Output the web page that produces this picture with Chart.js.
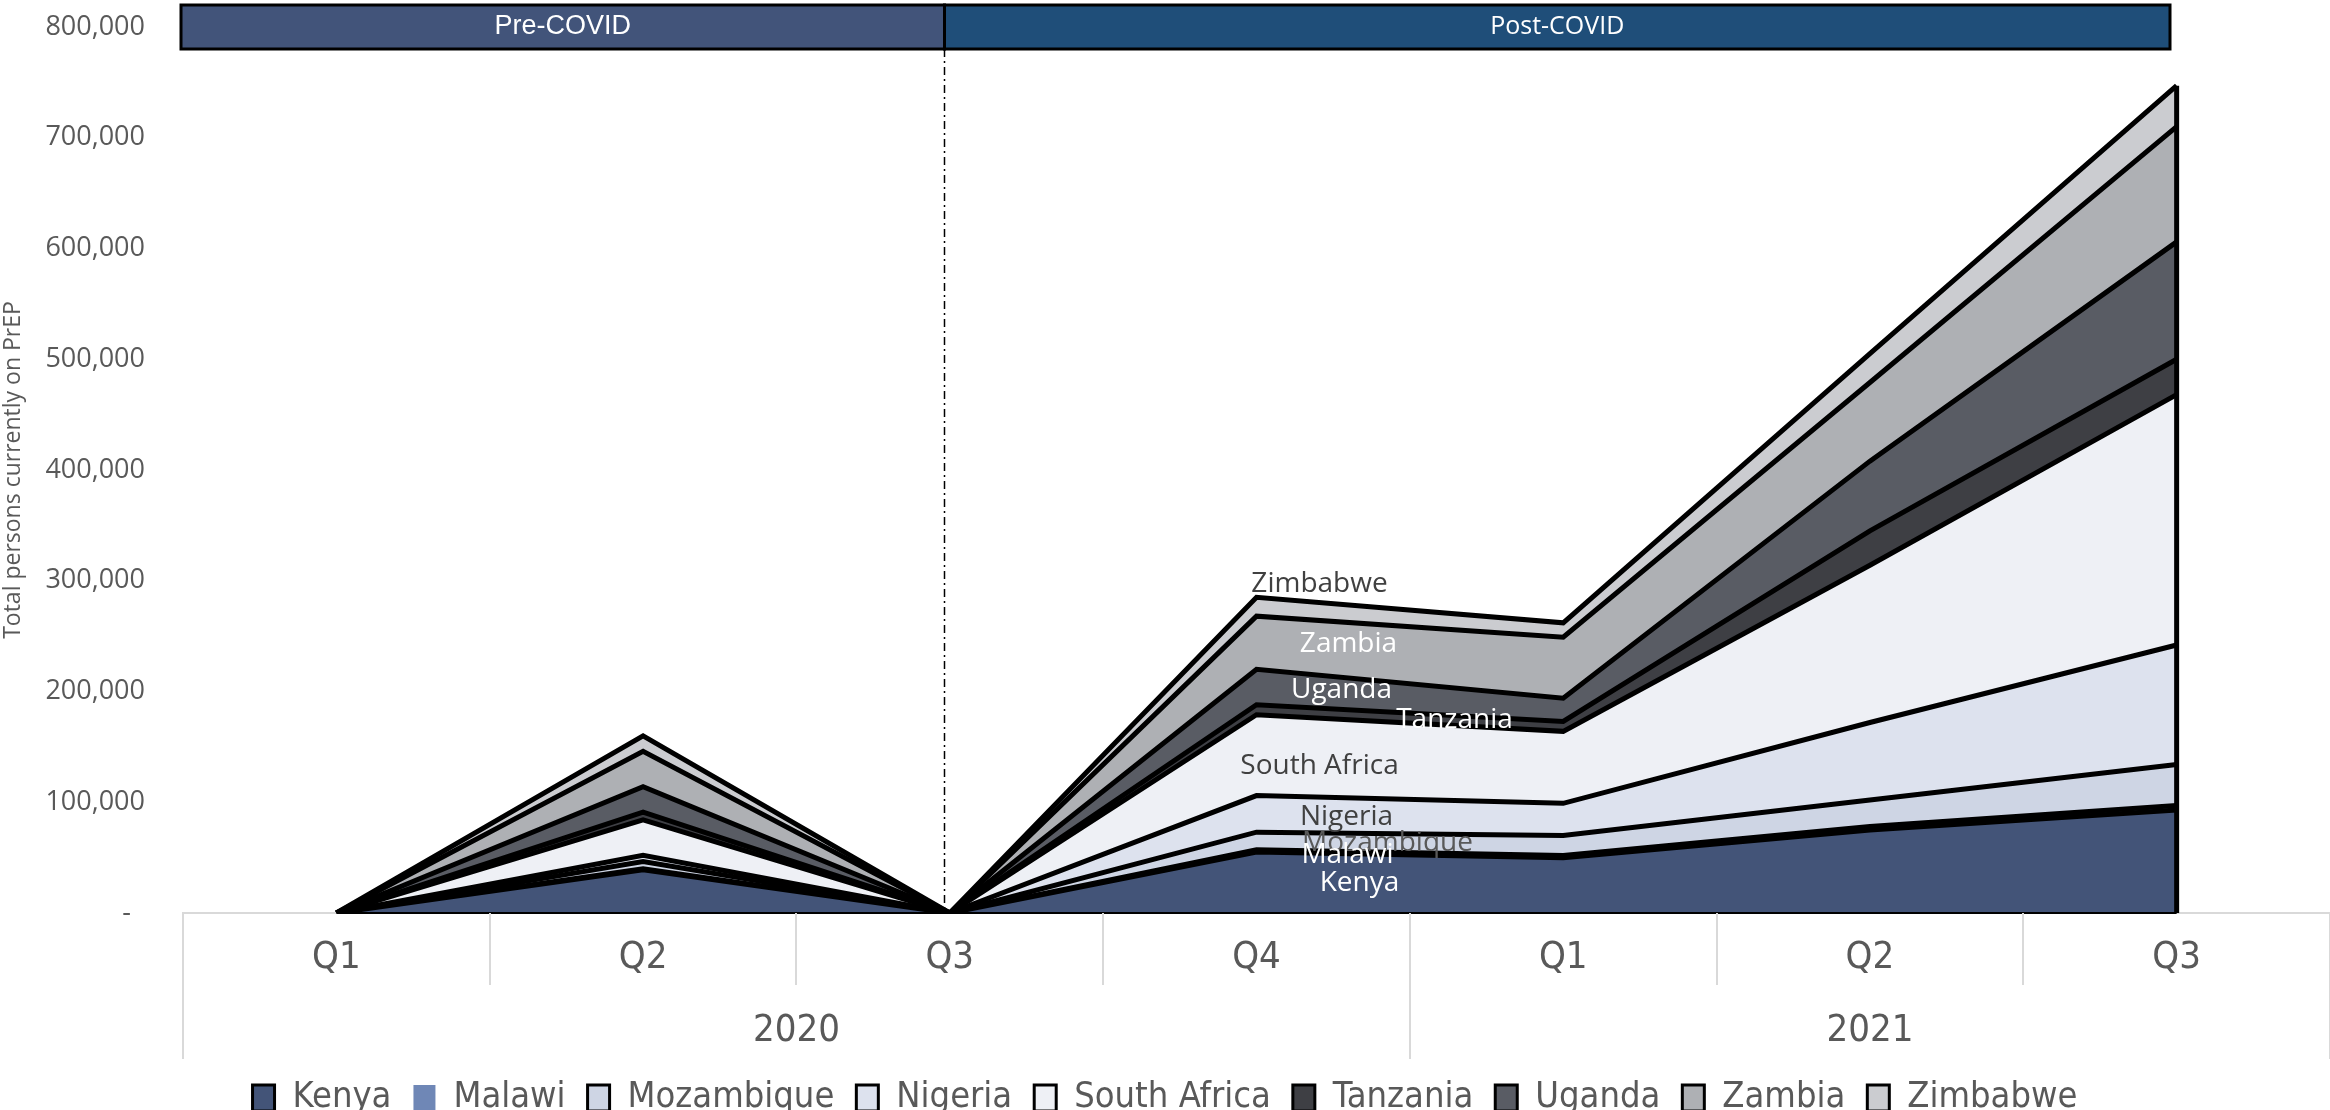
<!DOCTYPE html>
<html>
<head>
<meta charset="utf-8">
<title>Total persons currently on PrEP</title>
<script src="https://cdn.jsdelivr.net/npm/chart.js@4.4.1/dist/chart.umd.min.js"></script>
<style>
  html, body { margin: 0; padding: 0; background: #ffffff; }
  canvas { display: block; }
</style>
</head>
<body>
<canvas id="prep-chart" width="2330" height="1110"></canvas>
<script>
// quarters on the x axis, grouped by year underneath
var quarters = ['Q1', 'Q2', 'Q3', 'Q4', 'Q1', 'Q2', 'Q3'];
var years = ['2020', '2021'];
var quartersPerYear = [4, 3];

var yTicks = [0, 100000, 200000, 300000, 400000, 500000, 600000, 700000, 800000];

var periods = ['Pre-COVID', 'Post-COVID'];

var countries = ['Kenya', 'Malawi', 'Mozambique', 'Nigeria', 'South Africa',
                 'Tanzania', 'Uganda', 'Zambia', 'Zimbabwe'];

// persons currently on PrEP, per quarter
var kenya       = [0, 39000, 0, 55000, 50000,  75000,  93000];
var malawi      = [0,  1000, 0,  2000,  2000,   3000,   4000];
var mozambique  = [0,  6500, 0, 16000, 18000,  24000,  37000];
var nigeria     = [0,  5500, 0, 33000, 29000,  70000, 108000];
var southAfrica = [0, 32000, 0, 73000, 65000, 142000, 226000];
var tanzania    = [0,  7000, 0,  9000,  9000,  31000,  32000];
var uganda      = [0, 23000, 0, 32000, 21000,  63000, 106000];
var zambia      = [0, 32000, 0, 48000, 55000,  71000, 104000];
var zimbabwe    = [0, 14000, 0, 17000, 13000,  26000,  37000];

var seriesValues = [kenya, malawi, mozambique, nigeria, southAfrica,
                    tanzania, uganda, zambia, zimbabwe];

var fillColors = ['#435478', '#6F87B6', '#CED5E4', '#DDE2EE', '#EEF0F5',
                  '#3E3F44', '#595C64', '#AEB0B4', '#CBCCD0'];

// series name labels sit inside each band at Q4 2020
var labelIndex = 3;
var labelColors = ['#FFFFFF', '#FFFFFF', '#595959', '#404040', '#404040',
                   '#FFFFFF', '#FFFFFF', '#FFFFFF', '#404040'];
var labelOffsets = [[103, 0], [91, 4], [131, 2], [90, 3], [63, 11],
                    [198, 10], [85, 3], [92, 1], [63, -23]];

var narrowFont = '"Liberation Sans Narrow", "DejaVu Sans Condensed", "Arial Narrow", sans-serif';
var axisGrey = '#595959';
var lineGrey = '#D9D9D9';

var datasets = [];
for (var i = 0; i < countries.length; i++) {
    datasets.push({
        label: countries[i],
        data: seriesValues[i],
        backgroundColor: fillColors[i],
        borderColor: '#000000',
        borderWidth: 5,
        borderJoinStyle: 'miter',
        fill: i === 0 ? 'origin' : '-1',
        pointRadius: 0,
        tension: 0
    });
}

// dash-dot split line and the Pre/Post COVID header bars
var periodPlugin = {
    id: 'periods',
    beforeDatasetsDraw: function(chart) {
        var ctx = chart.ctx;
        var area = chart.chartArea;
        var splitX = Math.round(chart.scales.x.getPixelForValue(2)) - 5.5;
        ctx.save();
        ctx.strokeStyle = '#000000';
        ctx.lineWidth = 1.5;
        ctx.setLineDash([8, 4, 2, 4]);
        ctx.beginPath();
        ctx.moveTo(splitX, area.top + 22);
        ctx.lineTo(splitX, chart.scales.y.getPixelForValue(0));
        ctx.stroke();
        ctx.restore();
    },
    afterDraw: function(chart) {
        var ctx = chart.ctx;
        var area = chart.chartArea;
        var xs = chart.scales.x;
        var splitX = Math.round(xs.getPixelForValue(2)) - 5.5;
        var endX = Math.round(xs.getPixelForValue(quarters.length - 1)) - 7;
        var top = area.top - 22;
        var bottom = area.top + 22;

        var bars = [
            { left: area.left - 2, right: splitX, fill: '#42547A',
              font: '27px "Liberation Sans", Arial, sans-serif' },
            { left: splitX, right: endX, fill: '#1F4E79',
              font: '25px "Open Sans", sans-serif' }
        ];

        ctx.save();
        for (var i = 0; i < bars.length; i++) {
            var b = bars[i];
            ctx.fillStyle = b.fill;
            ctx.fillRect(b.left, top, b.right - b.left, bottom - top);
            ctx.strokeStyle = '#000000';
            ctx.lineWidth = 3;
            ctx.strokeRect(b.left, top, b.right - b.left, bottom - top);
            ctx.fillStyle = '#FFFFFF';
            ctx.font = b.font;
            ctx.textAlign = 'center';
            ctx.textBaseline = 'middle';
            ctx.fillText(periods[i], (b.left + b.right) / 2, (top + bottom) / 2);
        }
        ctx.restore();
    }
};

// series names, plus the outline along the right edge and the base
var seriesLabelPlugin = {
    id: 'seriesLabels',
    afterDatasetsDraw: function(chart) {
        var ctx = chart.ctx;
        var xs = chart.scales.x;
        var ys = chart.scales.y;
        var zeroY = ys.getPixelForValue(0);
        var lastIndex = quarters.length - 1;
        var topMeta = chart.getDatasetMeta(countries.length - 1);

        ctx.save();
        ctx.strokeStyle = '#000000';
        ctx.lineWidth = 2;
        ctx.beginPath();
        ctx.moveTo(xs.getPixelForValue(0), zeroY);
        ctx.lineTo(xs.getPixelForValue(lastIndex), zeroY);
        ctx.stroke();

        ctx.lineWidth = 5;
        ctx.beginPath();
        ctx.moveTo(topMeta.data[lastIndex].x, topMeta.data[lastIndex].y);
        ctx.lineTo(topMeta.data[lastIndex].x, zeroY);
        ctx.stroke();

        ctx.font = '28px "Open Sans", sans-serif';
        ctx.textAlign = 'center';
        ctx.textBaseline = 'middle';
        for (var i = countries.length - 1; i >= 0; i--) {
            var pt = chart.getDatasetMeta(i).data[labelIndex];
            var below = i === 0 ? zeroY : chart.getDatasetMeta(i - 1).data[labelIndex].y;
            var midY = (pt.y + below) / 2;
            ctx.fillStyle = labelColors[i];
            ctx.fillText(countries[i], pt.x + labelOffsets[i][0], midY + labelOffsets[i][1]);
        }
        ctx.restore();
    }
};

// quarter separators and the year row under the x axis
var yearAxisPlugin = {
    id: 'yearAxis',
    afterDraw: function(chart) {
        var ctx = chart.ctx;
        var area = chart.chartArea;
        var xs = chart.scales.x;
        var step = (area.right - area.left) / quarters.length;
        var baseY = area.bottom;

        var yearEdges = [0];
        var acc = 0;
        for (var k = 0; k < quartersPerYear.length; k++) {
            acc += quartersPerYear[k];
            yearEdges.push(acc);
        }

        ctx.save();
        ctx.strokeStyle = lineGrey;
        ctx.lineWidth = 2;
        for (var i = 0; i <= quarters.length; i++) {
            var x = Math.round(xs.getPixelForValue(i) - step / 2);
            var isYearEdge = yearEdges.indexOf(i) !== -1;
            ctx.beginPath();
            ctx.moveTo(x, baseY);
            ctx.lineTo(x, baseY + (isYearEdge ? 146 : 72));
            ctx.stroke();
        }

        ctx.fillStyle = axisGrey;
        ctx.font = '38px ' + narrowFont;
        ctx.textAlign = 'center';
        ctx.textBaseline = 'middle';
        for (var j = 0; j < years.length; j++) {
            var x0 = xs.getPixelForValue(yearEdges[j]) - step / 2;
            var x1 = xs.getPixelForValue(yearEdges[j + 1]) - step / 2;
            ctx.fillText(years[j], (x0 + x1) / 2, baseY + 118);
        }
        ctx.restore();
    }
};

var ctx = document.getElementById('prep-chart');

var chart = new Chart(ctx, {
    type: 'line',
    data: {
        labels: quarters,
        datasets: datasets
    },
    options: {
        responsive: false,
        animation: false,
        devicePixelRatio: 1,
        layout: {
            padding: { top: 27, right: 0, bottom: -16, left: 0 }
        },
        plugins: {
            tooltip: { enabled: false },
            legend: {
                position: 'bottom',
                labels: {
                    color: axisGrey,
                    font: { family: narrowFont, size: 36 },
                    boxWidth: 22,
                    boxHeight: 26,
                    padding: 22,
                    generateLabels: function(chart) {
                        var items = Chart.defaults.plugins.legend.labels.generateLabels(chart);
                        items.forEach(function(item, i) {
                            item.strokeStyle = '#000000';
                            item.lineWidth = i === 1 ? 0 : 3;
                            item.fillStyle = fillColors[i];
                        });
                        return items;
                    }
                }
            }
        },
        scales: {
            x: {
                offset: true,
                grid: { display: false, drawTicks: false },
                border: { display: true, color: lineGrey, width: 2 },
                ticks: {
                    color: axisGrey,
                    font: { family: narrowFont, size: 38 },
                    padding: 22,
                    maxRotation: 0,
                    autoSkip: false
                },
                afterFit: function(scale) { scale.height = 145; }
            },
            y: {
                stacked: true,
                min: 0,
                max: yTicks[yTicks.length - 1],
                // invisible tick marks keep the labels off the plot edge
                grid: { display: false, drawTicks: true, tickLength: 38 },
                border: { display: false },
                afterBuildTicks: function(scale) {
                    scale.ticks = yTicks.map(function(v) { return { value: v }; });
                },
                ticks: {
                    color: axisGrey,
                    font: { family: '"Open Sans", sans-serif', size: 27 },
                    padding: 0,
                    callback: function(value) {
                        return value === 0 ? '-  ' : value.toLocaleString('en-US');
                    }
                },
                title: {
                    display: true,
                    text: 'Total persons currently on PrEP',
                    color: axisGrey,
                    font: { family: '"Open Sans", sans-serif', size: 23 },
                    padding: 0
                },
                afterFit: function(scale) { scale.width = 183; }
            }
        }
    },
    plugins: [periodPlugin, seriesLabelPlugin, yearAxisPlugin]
});
</script>
</body>
</html>
